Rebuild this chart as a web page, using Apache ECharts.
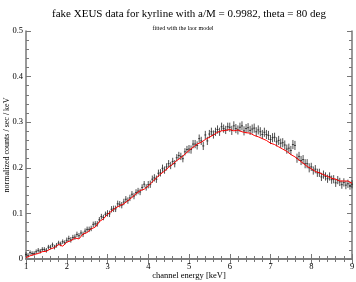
<!DOCTYPE html>
<html><head><meta charset="utf-8">
<script src="https://cdn.jsdelivr.net/npm/echarts@6/dist/echarts.min.js"></script>
<style>html,body{margin:0;padding:0;background:#fff}#c{width:356px;height:282px}</style>
</head><body><div id="c"></div>
<script>
// channel energies (keV)
const energies = [1.00,1.05,1.10,1.15,1.20,1.25,1.30,1.35,1.40,1.45,1.50,1.55,1.60,1.65,1.70,1.75,1.80,1.85,1.90,1.95,
2.00,2.05,2.10,2.15,2.20,2.25,2.30,2.35,2.40,2.45,2.50,2.55,2.60,2.65,2.70,2.75,2.80,2.85,2.90,2.95,
3.00,3.05,3.10,3.15,3.20,3.25,3.30,3.35,3.40,3.45,3.50,3.55,3.60,3.65,3.70,3.75,3.80,3.85,3.90,3.95,
4.00,4.05,4.10,4.15,4.20,4.25,4.30,4.35,4.40,4.45,4.50,4.55,4.60,4.65,4.70,4.75,4.80,4.85,4.90,4.95,
5.00,5.05,5.10,5.15,5.20,5.25,5.30,5.35,5.40,5.45,5.50,5.55,5.60,5.65,5.70,5.75,5.80,5.85,5.90,5.95,
6.00,6.05,6.10,6.15,6.20,6.25,6.30,6.35,6.40,6.45,6.50,6.55,6.60,6.65,6.70,6.75,6.80,6.85,6.90,6.95,
7.00,7.05,7.10,7.15,7.20,7.25,7.30,7.35,7.40,7.45,7.50,7.55,7.60,7.65,7.70,7.75,7.80,7.85,7.90,7.95,
8.00,8.05,8.10,8.15,8.20,8.25,8.30,8.35,8.40,8.45,8.50,8.55,8.60,8.65,8.70,8.75,8.80,8.85,8.90,8.95,9.00];
// normalized counts / sec / keV (data)
const counts = [0.010,0.008,0.014,0.012,0.012,0.016,0.019,0.017,0.021,0.021,0.019,0.026,0.026,0.031,0.026,0.030,0.035,0.033,0.038,0.036,
0.041,0.045,0.042,0.047,0.048,0.054,0.051,0.057,0.054,0.061,0.065,0.065,0.067,0.076,0.077,0.077,0.086,0.093,0.091,0.098,
0.100,0.099,0.109,0.110,0.110,0.121,0.120,0.118,0.125,0.131,0.128,0.134,0.142,0.138,0.146,0.149,0.147,0.157,0.164,0.157,
0.163,0.164,0.175,0.178,0.175,0.188,0.189,0.199,0.195,0.202,0.209,0.205,0.214,0.209,0.222,0.227,0.225,0.220,0.235,0.240,
0.241,0.240,0.252,0.252,0.249,0.264,0.259,0.248,0.272,0.259,0.274,0.279,0.273,0.279,0.284,0.279,0.290,0.286,0.283,0.290,
0.289,0.282,0.292,0.286,0.283,0.289,0.292,0.281,0.286,0.288,0.282,0.285,0.287,0.279,0.283,0.279,0.273,0.278,0.273,0.271,
0.262,0.266,0.267,0.257,0.260,0.254,0.255,0.250,0.241,0.243,0.238,0.251,0.249,0.221,0.225,0.216,0.218,0.209,0.209,0.200,
0.202,0.194,0.197,0.189,0.189,0.180,0.185,0.181,0.176,0.181,0.174,0.175,0.167,0.173,0.169,0.163,0.168,0.162,0.165,0.161,0.164];
// error half-size per keV interval
const errByKeV = [0.005,0.006,0.007,0.008,0.009,0.010,0.010,0.009,0.009];
// model energies and values
const modelE = [1.0,1.1,1.2,1.3,1.4,1.5,1.6,1.7,1.8,1.9,2.0,2.1,2.2,2.3,2.4,2.5,2.6,2.7,2.8,2.9,
3.0,3.1,3.2,3.3,3.4,3.5,3.6,3.7,3.8,3.9,4.0,4.1,4.2,4.3,4.4,4.5,4.6,4.7,4.8,4.9,
5.0,5.1,5.2,5.3,5.4,5.5,5.6,5.7,5.8,5.9,6.0,6.1,6.2,6.3,6.4,6.5,6.6,6.7,6.8,6.9,
7.0,7.1,7.2,7.3,7.4,7.5,7.6,7.7,7.8,7.9,8.0,8.1,8.2,8.3,8.4,8.5,8.6,8.7,8.8,8.9,9.0];
const model = [0.003,0.007,0.010,0.012,0.016,0.017,0.022,0.025,0.032,0.028,0.037,0.040,0.046,0.044,0.055,0.058,0.066,0.070,0.082,0.088,
0.098,0.105,0.112,0.117,0.121,0.128,0.135,0.143,0.150,0.153,0.160,0.169,0.178,0.186,0.193,0.201,0.208,0.216,0.222,0.230,
0.238,0.245,0.252,0.256,0.262,0.267,0.272,0.278,0.281,0.282,0.284,0.281,0.283,0.279,0.277,0.276,0.271,0.268,0.264,0.260,
0.254,0.251,0.246,0.241,0.236,0.229,0.224,0.217,0.210,0.203,0.198,0.192,0.189,0.185,0.181,0.177,0.175,0.171,0.171,0.171,0.166];
const xTicks = [1,2,3,4,5,6,7,8,9];
const yTicks = [0,0.1,0.2,0.3,0.4,0.5];

const serif = '"Liberation Serif","DejaVu Serif",serif';
const frameColor = '#777';
const halfBin = 0.025;

const dataPts = energies.map((e,i)=>[e, counts[i], errByKeV[Math.min(8, Math.floor(e-1))]]);
const modelPts = modelE.map((e,i)=>[e, model[i]]);

const chart = echarts.init(document.getElementById('c'), null, {renderer:'canvas'});
const axisCommon = {
  axisLine:{show:true, lineStyle:{color:frameColor, width:1.5}},
  axisTick:{show:true, inside:true, length:5, lineStyle:{color:frameColor}},
  minorTick:{show:true, splitNumber:5, length:3, lineStyle:{color:frameColor}},
  splitLine:{show:false}
};
chart.setOption({
  animation:false,
  title:[
    {text:'fake XEUS data for kyrline with a/M = 0.9982, theta = 80 deg', left:184, top:4, textAlign:'center',
     textStyle:{fontFamily:serif, fontSize:11, fontWeight:'normal', color:'#000'}},
    {text:'fitted with the laor model', left:178, top:20, textAlign:'center',
     textStyle:{fontFamily:serif, fontSize:6, fontWeight:'normal', color:'#000'}}
  ],
  grid:{left:26, right:4, top:31, bottom:23, containLabel:false, outerBoundsMode:'none'},
  xAxis:[
    Object.assign({type:'value', min:1, max:9, interval:1, position:'bottom',
      name:'channel energy [keV]', nameLocation:'middle', nameGap:12, nameMoveOverlap:false,
      nameTextStyle:{fontFamily:serif, fontSize:8.5, color:'#000'},
      axisLabel:{fontFamily:serif, fontSize:8.5, color:'#000', margin:3,
        formatter:v=>xTicks.includes(v)?String(v):''}}, axisCommon),
    Object.assign({type:'value', min:1, max:9, interval:1, position:'top', axisLabel:{show:false}}, axisCommon)
  ],
  yAxis:[
    Object.assign({type:'value', min:0, max:0.5, interval:0.1, position:'left',
      name:'normalized counts / sec / keV', nameLocation:'middle', nameGap:15, nameMoveOverlap:false,
      nameTextStyle:{fontFamily:serif, fontSize:8, color:'#000'},
      axisLabel:{fontFamily:serif, fontSize:8.5, color:'#000', margin:3,
        formatter:v=>{const t=yTicks.find(a=>Math.abs(a-v)<1e-9); return t===undefined?'':String(t);}}}, axisCommon),
    Object.assign({type:'value', min:0, max:0.5, interval:0.1, position:'right', axisLabel:{show:false}}, axisCommon)
  ],
  series:[
    {type:'custom', xAxisIndex:0, yAxisIndex:0, data:dataPts, z:2,
     renderItem:(params, api)=>{
       const x=api.value(0), y=api.value(1), er=api.value(2);
       const top=api.coord([x,y+er]), bot=api.coord([x,y-er]);
       const l=api.coord([x-halfBin,y]), r=api.coord([x+halfBin,y]);
       const st={stroke:'#222', lineWidth:0.8};
       return {type:'group', children:[
         {type:'line', shape:{x1:top[0],y1:top[1],x2:bot[0],y2:bot[1]}, style:st},
         {type:'line', shape:{x1:l[0],y1:l[1],x2:r[0],y2:r[1]}, style:st}
       ]};
     }},
    {type:'line', xAxisIndex:0, yAxisIndex:0, data:modelPts, showSymbol:false, symbol:'none', z:3,
     lineStyle:{color:'#ff0000', width:1}}
  ]
});
</script></body></html>
